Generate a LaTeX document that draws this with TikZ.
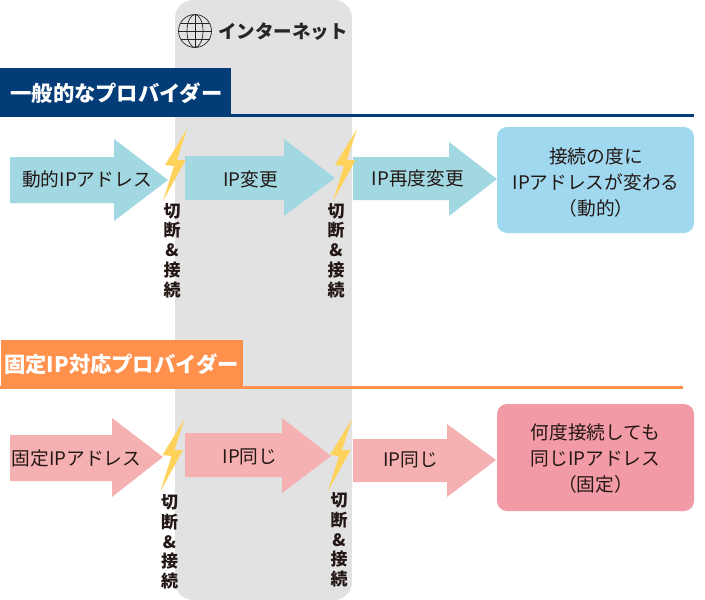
\documentclass[tikz,border=0pt]{standalone}
\usepackage{fontspec}
\newfontfamily\jp{Noto Sans CJK JP}
\definecolor{navy}{HTML}{043C78}
\definecolor{orng}{HTML}{FF914D}
\definecolor{band}{HTML}{E2E2E2}
\definecolor{cyanarrow}{HTML}{A1D8E2}
\definecolor{cyanbox}{HTML}{A0D8EF}
\definecolor{pinkarrow}{HTML}{F5B0B2}
\definecolor{pinkbox}{HTML}{F29AA6}
\definecolor{bolt}{HTML}{FFD25C}
\definecolor{ink}{HTML}{231815}
\tikzset{
 x=1pt,y=-1pt,
 txt/.style={font=\jp\fontsize{18.7}{26}\selectfont,text=ink,inner sep=0pt,align=center},
 head/.style={font=\jp\bfseries\fontsize{21.3}{24}\selectfont,text=white,inner sep=0pt},
 vert/.style={font=\jp\bfseries\fontsize{17}{19.8}\selectfont,text=ink,inner sep=0pt,align=center}
}
\newcommand{\fatarrow}[9]{\fill[#9] (#1,#2) -- (#4,#2) -- (#4,#5) -- (#7,#8) -- (#4,#6) -- (#4,#3) -- (#1,#3) -- cycle;}
\newcommand{\zap}[2]{\fill[bolt,shift={(#1,#2)}] (0,0) -- (-22,36) -- (-13,37) -- (-24,72) -- (-1.5,31) -- (-10,31) -- cycle;}
\begin{document}
\begin{tikzpicture}
\useasboundingbox (0,0) rectangle (705,600);
\fill[band,rounded corners=18pt] (175,0) rectangle (352,600);
\begin{scope}[shift={(195,31)},draw=black!85,line width=.7pt]
\draw (0,0) circle (16.5);
\draw (0,0) ellipse (8 and 16.5);
\draw (0,-16.5) -- (0,16.5);
\draw[line width=1pt] (-16.5,0) -- (16.5,0);
\draw (-14.5,-8) -- (14.5,-8);
\draw (-14.5,8) -- (14.5,8);
\end{scope}
\node[font=\jp\bfseries\fontsize{18.5}{20}\selectfont,text=black!85,inner sep=0pt,anchor=west] (inet) at (218,31.5) {インターネット};
% section 1
\fill[navy] (0,68) rectangle (231,116);
\draw[navy,line width=3pt] (0,115) -- (694,115);
\node[head] (h1) at (116.5,93.5) {一般的なプロバイダー};
\fatarrow{10}{157}{203}{114}{139}{221}{168}{180}{cyanarrow}
\node[txt] (a1) at (87,179.5) {動的IPアドレス};
\fatarrow{185}{156}{200}{284}{139}{216}{335}{178}{cyanarrow}
\node[txt] (a2) at (250.5,179.5) {IP変更};
\fatarrow{353}{157}{200}{449}{142}{216}{497}{179}{cyanarrow}
\node[txt] (a3) at (418,178.5) {IP再度変更};
\fill[cyanbox,rounded corners=10pt] (497,127) rectangle (694,233);
\node[txt] (b1) at (596,182.5) {接続の度に\\IPアドレスが変わる\\（動的）};
\zap{187}{129}
\zap{357}{129}
\node[vert] (c1) at (172,250.5) {切\\断\\\&\\接\\続};
\node[vert] (c2) at (336,250.5) {切\\断\\\&\\接\\続};
% section 2
\fill[orng] (1,340) rectangle (243,386);
\draw[orng,line width=3pt] (0,387) -- (682.5,387);
\node[head] (h2) at (121.5,364) {固定IP対応プロバイダー};
\fatarrow{10}{435}{481}{112}{418}{497}{163}{457}{pinkarrow}
\node[txt] (a4) at (76.5,458.5) {固定IPアドレス};
\fatarrow{185}{433}{477}{282}{418}{493}{331}{456}{pinkarrow}
\node[txt] (a5) at (250,456.5) {IP同じ};
\fatarrow{353}{439}{482}{447}{424}{497}{496}{460}{pinkarrow}
\node[txt] (a6) at (410.5,460) {IP同じ};
\fill[pinkbox,rounded corners=10pt] (497,404) rectangle (694,511);
\node[txt] (b2) at (595.5,459) {何度接続しても\\同じIPアドレス\\（固定）};
\zap{184.5}{419}
\zap{352}{419}
\node[vert] (c3) at (169.5,542) {切\\断\\\&\\接\\続};
\node[vert] (c4) at (339,540) {切\\断\\\&\\接\\続};
\end{tikzpicture}
\end{document}
